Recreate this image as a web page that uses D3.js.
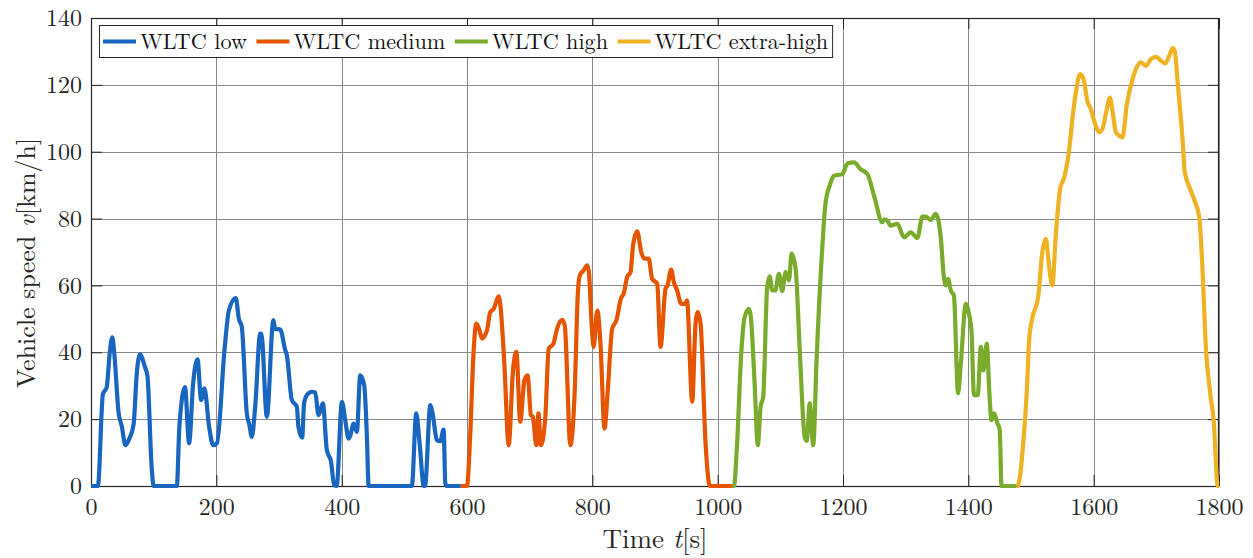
<!DOCTYPE html>
<html>
<head>
<meta charset="utf-8">
<script src="https://cdn.jsdelivr.net/npm/d3@7"></script>
<style>
  html, body { margin: 0; padding: 0; background: #fff; }
  svg { display: block; }
</style>
</head>
<body>
<svg id="chart" width="1253" height="558"></svg>
<script>
// ---- data (time [s], speed [km/h]) ----
const lowT = [0,11,19,25,30,34,37,44,49,55,60,68,73,78,86,90,97,100,137,141,150,156.5,163,170,175.7,181,188.5,195,201,213,220,231,236,240.6,248.6,252.8,256.6,262,270,272,280.6,291,294,302,310,312.5,320.5,328.5,331,337,340,344.5,352.5,357.8,363,370,376.4,383,388,392,400.4,405.7,411,414,419,424.3,429.6,436,440.3,443,512,519,524.4,531,533,541.5,545,552,557.4,562.7,565.4,568,590];
const lowV = [0,0,27.5,29.5,40,44.5,40,22,18,12.2,13.7,18.5,33.5,39.4,35.6,33,5,0,0,17.7,29.6,12.8,30.7,37.9,25.7,29.2,17.7,12.2,12.8,40.6,52.5,56.2,50,47.6,21.8,18.2,14.7,23.7,45.6,45.5,20.7,49.6,47,46.8,40.6,39.1,25.7,23.7,17.7,14.5,24.7,27.2,28.2,28,21.2,24.7,10.7,7.3,0.3,0,25.2,19.7,14.2,15.2,18.7,16.2,33.1,30.1,14.7,0,0,21.7,12.7,0,0,24.2,21.8,13.7,13.4,16.9,0.8,0,0];

const medT = [590,600,605,610.6,615,620,624,632,637,642.6,650.5,653,659.6,666.5,673.4,678.8,685,691.6,696.8,702,705,710.7,714,718,725,730.4,738,743.7,751.7,756,765,771.5,777,780,786,792,794.5,799,802,808,813,819.4,824.7,831.6,838.5,846,850,855.5,861,865,871.5,878,883,890,895.4,903.5,908.8,916.8,920,925.8,930,935.4,941.8,948.7,951,959.4,964.7,968.4,972.7,980.7,987.6,1023];
const medV = [0,0,14.7,40.6,48.6,46.5,44.1,46.6,52,53,56.7,54.5,36.6,12.2,34.6,40.1,19.2,31.6,33.1,21.2,20.7,12.2,21.7,12.2,20.7,41.1,42.6,47,49.7,48,12.2,26.7,58,63,64.5,66,64,48,41.6,52.5,42.6,17.2,28.7,47,49.6,56.3,57.5,62.5,64,72,76.2,70,68,68,62,60.5,41.6,59,60,64.7,61,58.5,54.5,54.5,55.5,25.2,48.6,52,48.6,12.7,0,0];

const highT = [1023,1026,1031,1037.6,1043,1050,1053,1059,1064,1068.5,1072.7,1079,1083,1087,1092,1097.8,1103,1108.4,1113.7,1118,1124.4,1131,1138.8,1142,1147,1152.5,1157.8,1167,1172,1179,1185.6,1199,1207,1217.6,1228,1239,1249.5,1262.8,1266,1270.8,1276,1286.8,1297.4,1308,1318.7,1326.7,1332,1340,1348,1356,1361,1364,1367.7,1372,1377,1383.6,1388,1396,1401,1405,1409,1415,1420,1424,1429.5,1433,1437,1441,1446.5,1450,1453,1477];
const highV = [0,0,12.7,39.6,50.5,53,50.5,30.6,12.2,23.7,26.7,59.5,62.7,58.5,58.5,63.5,58.3,64,61.5,69.5,65,40.6,14.7,13.5,24.7,12.2,37.6,71.4,84.4,90,92.8,93.3,96.5,96.8,94.8,93.3,86.9,78.9,79.8,79.4,77.9,78.4,74.4,75.9,74.2,80.6,80.6,79.6,81.4,74.4,62.5,60,62,58.5,57,27.7,36.6,54.5,51.5,46.6,27.2,27.2,41.6,34.6,42.6,30,19.7,21.7,18.7,17,0,0];

const exhT = [1477,1478.5,1488,1493.4,1497,1502.5,1511.4,1518.4,1523.7,1529,1534,1539.7,1546.5,1553,1559.3,1568.9,1578.5,1583.8,1590,1595.5,1600.8,1609,1614,1621,1625.8,1630,1635.5,1640.8,1646,1653,1662,1670,1675.4,1683.4,1691.4,1699.4,1707.4,1714,1720.7,1726,1729,1734.7,1742.7,1745,1753,1761,1768.5,1774,1779,1786,1791.5,1798,1800];
const exhV = [0,0,13.7,28.7,43.6,50.5,56.5,70.4,73.9,65.5,60,75.4,88.9,92.3,98.3,114.2,123.2,121.7,115.2,112.7,109.2,105.8,106.8,112.7,116.2,112.2,105.8,104.8,104.3,114.2,121.7,125.7,126.7,125.7,127.7,128.4,127.2,126.4,128.7,131,130.4,119.2,101.3,94.3,89.3,85.4,80.4,63.5,41.6,27.7,19.7,0,0];

const seriesNames = ["WLTC low", "WLTC medium", "WLTC high", "WLTC extra-high"];
const seriesColors = ["#1866c0", "#e65400", "#7aab2c", "#efb222"];
const xTicks = [0,200,400,600,800,1000,1200,1400,1600,1800];
const yTicks = [0,20,40,60,80,100,120,140];
const xLabel = "Time ";
const yLabel = "Vehicle speed ";

const FONT = '"Latin Modern Roman", "Liberation Serif", serif';
const INK = "#262626";
const svg = d3.select("#chart");

// ---- layout ----
const L = 91, R = 1219, T = 18, B = 486;
const x = d3.scaleLinear().domain([0, 1800]).range([L, R]);
const y = d3.scaleLinear().domain([0, 140]).range([B, T]);

// grid
const grid = svg.append("g").attr("shape-rendering", "crispEdges");
grid.selectAll("line.gx").data(xTicks).join("line")
  .attr("x1", d => Math.round(x(d)) + 0.5).attr("x2", d => Math.round(x(d)) + 0.5)
  .attr("y1", T).attr("y2", B).attr("stroke", "#8a8a8a").attr("stroke-width", 1);
grid.selectAll("line.gy").data(yTicks).join("line")
  .attr("y1", d => Math.round(y(d)) + 0.5).attr("y2", d => Math.round(y(d)) + 0.5)
  .attr("x1", L).attr("x2", R).attr("stroke", "#8a8a8a").attr("stroke-width", 1);

// axes with inward ticks (box on all four sides)
const tickLen = 11;
const fmt = d3.format("d");
const axB = svg.append("g").attr("transform", `translate(0,${B})`)
  .call(d3.axisBottom(x).tickValues(xTicks).tickFormat(fmt).tickSizeInner(-tickLen).tickSizeOuter(0));
const axT = svg.append("g").attr("transform", `translate(0,${T})`)
  .call(d3.axisTop(x).tickValues(xTicks).tickSizeInner(-tickLen).tickSizeOuter(0).tickFormat(""));
const axL = svg.append("g").attr("transform", `translate(${L},0)`)
  .call(d3.axisLeft(y).tickValues(yTicks).tickFormat(fmt).tickSizeInner(-tickLen).tickSizeOuter(0));
const axR = svg.append("g").attr("transform", `translate(${R},0)`)
  .call(d3.axisRight(y).tickValues(yTicks).tickSizeInner(-tickLen).tickSizeOuter(0).tickFormat(""));
[axB, axT, axL, axR].forEach(a => {
  a.select(".domain").remove();
  a.selectAll(".tick line").attr("stroke", INK).attr("stroke-width", 1);
  a.selectAll("text").style("font-size", "24px").attr("fill", INK).style("font-family", FONT);
});
axB.selectAll("text").attr("dy", "0.71em").attr("y", 12);
axL.selectAll("text").attr("x", -9);

// box
svg.append("rect").attr("x", L + 0.5).attr("y", T + 0.5).attr("width", R - L - 1).attr("height", B - T)
  .attr("fill", "none").attr("stroke", INK).attr("stroke-width", 1.2);

// lines
const line = d3.line().x(d => x(d[0])).y(d => y(d[1])).curve(d3.curveMonotoneX);
const series = [
  d3.zip(lowT, lowV), d3.zip(medT, medV), d3.zip(highT, highV), d3.zip(exhT, exhV)
];
svg.append("g").selectAll("path").data(series).join("path")
  .attr("d", line).attr("fill", "none")
  .attr("stroke", (d, i) => seriesColors[i]).attr("stroke-width", 4.2)
  .attr("stroke-linejoin", "round").attr("stroke-linecap", "butt");

// axis labels
function label(t, parts, size) {
  t.style("font-family", FONT).attr("fill", INK).style("font-size", size + "px");
  parts.forEach(p => t.append("tspan").style("font-style", p[1] ? "italic" : "normal").text(p[0]));
}
label(svg.append("text").attr("x", (L + R) / 2).attr("y", 548).attr("text-anchor", "middle"),
  [[xLabel, false], ["t", true], ["[s]", false]], 27);
label(svg.append("text").attr("transform", `translate(35,263) rotate(-90)`).attr("text-anchor", "middle"),
  [[yLabel, false], ["v", true], ["[km/h]", false]], 26);

// legend
const lg = svg.append("g");
const lgBox = lg.append("rect").attr("x", 99.5).attr("y", 25.5).attr("height", 32)
  .attr("fill", "#fff").attr("stroke", INK).attr("stroke-width", 1);
let cx = 103;
const ly = 41.5;
seriesNames.forEach((name, i) => {
  lg.append("line").attr("x1", cx).attr("x2", cx + 33).attr("y1", ly).attr("y2", ly)
    .attr("stroke", seriesColors[i]).attr("stroke-width", 4.2);
  const tx = lg.append("text").attr("x", cx + 37).attr("y", ly).attr("dy", "0.33em")
    .style("font-family", FONT).attr("fill", "#111")
    .style("font-size", "22.2px").text(name);
  cx += 37 + tx.node().getComputedTextLength() + 9.5;
});
lgBox.attr("width", cx - 99.5 - 5);
</script>
</body>
</html>
